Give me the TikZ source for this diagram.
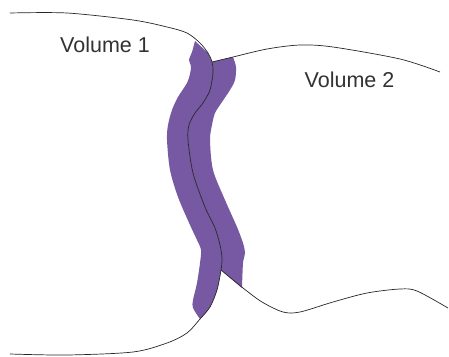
\documentclass[tikz,border=0pt]{standalone}
\usepackage{fontspec}
\setmainfont{Liberation Sans}
\definecolor{bandpurple}{RGB}{118,89,162}
\definecolor{labelgray}{RGB}{50,50,50}
\begin{document}
\begin{tikzpicture}[x=1pt,y=-1pt,
  outline/.style={line width=0.7pt,black!85},
  band/.style={fill=bandpurple},
  vollabel/.style={text=labelgray,font=\fontsize{21.5}{24}\selectfont,inner sep=0pt}]
\useasboundingbox (0,0) rectangle (449,356);
\fill[band] plot[smooth] coordinates {(195,41) (192,52) (189,60) (191,66) (190,74) (187,83) (178,97) (172,110) (168,125) (167,140) (170,170) (178,197) (190,225) (197,240) (201,250) (200,263) (197,283) (193,300) (193,308) (200,319)}
  -- plot[smooth] coordinates {(200,319) (210,307) (217,290) (221,270) (222,258) (220,245) (215,228) (205,207) (193,173) (188,140) (189,125) (195,113) (203,103) (210,90) (213,73) (212,62)}
  -- (208,53) -- cycle;
\fill[band] plot[smooth] coordinates {(212,62) (213,73) (210,90) (203,103) (195,113) (189,125) (188,140) (193,173) (205,207) (215,228) (220,245) (222,258) (221,270)}
  -- (242,288)
  -- plot[smooth] coordinates {(242,288) (243,263) (245,253) (243,243) (237,227) (225,200) (213,170) (210,140) (212,125) (215,113) (222,102) (230,90) (235,80) (236,67) (233,57)}
  -- cycle;
\draw[outline] plot[smooth] coordinates {(10,13) (67,13) (133,20) (167,27) (187,33) (200,43) (208,53) (212,62) (213,73) (210,90) (203,103) (195,113) (189,125) (188,140) (193,173) (205,207) (215,228) (220,245) (222,258) (221,270) (217,290) (210,307) (200,319) (187,333) (167,343) (133,352) (67,355) (10,354)};
\draw[outline] plot[smooth] coordinates {(212,62) (233,57) (267,49) (300,45) (333,47) (400,59) (440,72)};
\draw[outline] plot[smooth] coordinates {(221,270) (243,288) (262,302) (283,312) (300,312) (333,302) (367,293) (400,289) (417,291) (448,308)};
\node[vollabel] (vol1) at (105,45) {Volume 1};
\node[vollabel] (vol2) at (349.5,80) {Volume 2};
\end{tikzpicture}
\end{document}
